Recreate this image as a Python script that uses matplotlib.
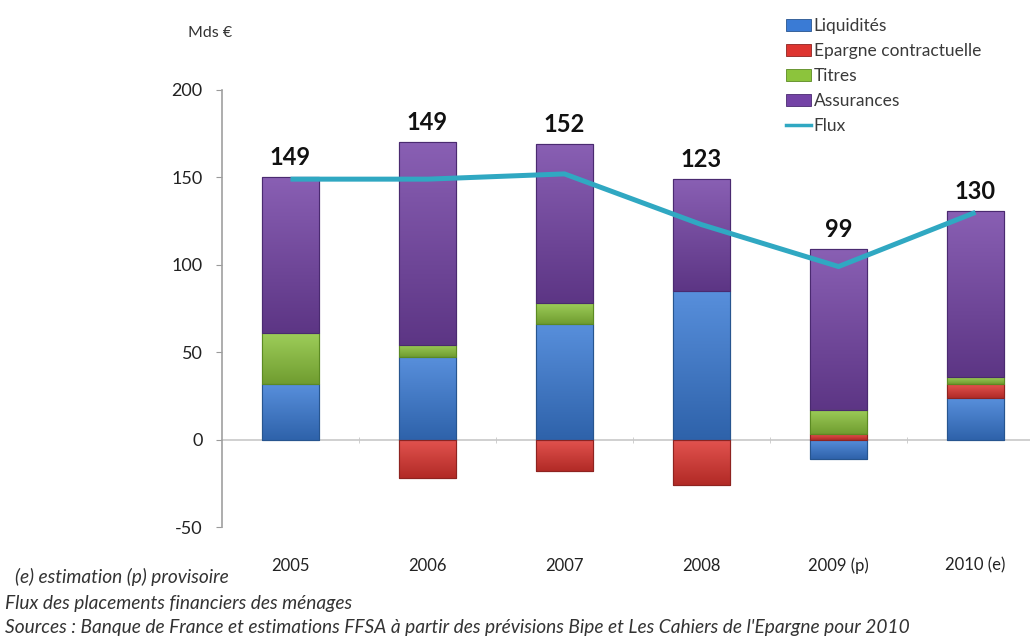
import matplotlib
matplotlib.use("Agg")
import matplotlib.pyplot as plt
from matplotlib.patches import Patch
from matplotlib.lines import Line2D
from matplotlib.colors import to_rgb
import numpy as np

# Flux des placements financiers des ménages (Mds €)
years = ["2005", "2006", "2007", "2008", "2009 (p)", "2010 (e)"]
liquidites = [32, 47, 66, 85, -11, 24]
epargne_contractuelle = [0, -22, -18, -26, 3, 8]
titres = [29, 7, 12, 0, 14, 4]
assurances = [89, 116, 91, 64, 92, 95]
flux = [149, 149, 152, 123, 99, 130]

series_names = ["Liquidités", "Epargne contractuelle", "Titres", "Assurances"]
series_values = [liquidites, epargne_contractuelle, titres, assurances]
series_colors = ["#3a7bd5", "#de3530", "#8cc43c", "#7443a6"]
edge_colors = ["#27558f", "#8e2320", "#5b8a22", "#4a2a70"]
flux_color = "#30a8c2"

font = "Lato"
plt.rcParams["font.family"] = [font, "DejaVu Sans"]
plt.rcParams["axes.unicode_minus"] = False

W, H, DPI = 1030, 641, 100
fig = plt.figure(figsize=(W / DPI, H / DPI), dpi=DPI)
fig.patch.set_facecolor("white")

# axes box in pixel terms: y-axis at x=222, category pitch 137 px
left, right = 222, 1044
top, bottom = 90, 527
ax = fig.add_axes([left / W, 1 - bottom / H, (right - left) / W, (bottom - top) / H])


def shade(color):
    """Vertical gradient image: lighter at the top, darker at the bottom."""
    c = np.array(to_rgb(color))
    t = np.linspace(0, 1, 64)[:, None]
    light = c + (1 - c) * 0.15
    dark = c * 0.8
    grad = light * (1 - t) + dark * t
    return grad[:, None, :].repeat(2, axis=1)


x = np.arange(len(years))
bar_w = 0.42
pos_base = np.zeros(len(years))
neg_base = np.zeros(len(years))
for name, vals, col, ec in zip(series_names, series_values, series_colors, edge_colors):
    vals = np.array(vals, dtype=float)
    base = np.where(vals >= 0, pos_base, neg_base)
    bars = ax.bar(x, vals, bar_w, bottom=base, color=col, edgecolor=ec,
                  linewidth=0.8, zorder=3, label=name)
    for rect in bars:
        h = rect.get_height()
        if h == 0:
            continue
        x0 = rect.get_x()
        y0, y1 = sorted([rect.get_y(), rect.get_y() + h])
        im = ax.imshow(shade(col), extent=[x0, x0 + rect.get_width(), y0, y1],
                       aspect="auto", origin="upper", zorder=3.1,
                       interpolation="bilinear")
        im.set_clip_path(rect)
        # thin outline drawn over the gradient
        ax.add_patch(plt.Rectangle((x0, y0), rect.get_width(), y1 - y0,
                                   fill=False, edgecolor=ec, linewidth=0.8,
                                   zorder=3.2))
    pos_base = pos_base + np.where(vals > 0, vals, 0)
    neg_base = neg_base + np.where(vals < 0, vals, 0)

ax.plot(x, flux, color=flux_color, lw=3.6, zorder=5, solid_capstyle="butt")

# flux value above each stacked bar
for xi, top_val, fv in zip(x, pos_base, flux):
    ax.annotate(f"{fv}", (xi, top_val), xytext=(0, 14), textcoords="offset points",
                ha="center", va="center", fontsize=17, fontweight="bold",
                color="#111111", family=font, zorder=6)

ax.set_xlim(-0.5, len(years) - 0.5)
ax.set_ylim(-50, 200)
ax.set_yticks([-50, 0, 50, 100, 150, 200])
ax.tick_params(axis="y", direction="out", length=4, color="#9a9a9a",
               labelsize=13, labelcolor="#222222", pad=10)
for lab in ax.get_yticklabels():
    lab.set_family(font)

for s in ["top", "right"]:
    ax.spines[s].set_visible(False)
ax.spines["left"].set_color("#a0a0a0")
ax.spines["left"].set_linewidth(1.2)
ax.spines["bottom"].set_position(("data", 0))
ax.spines["bottom"].set_color("#c8c8c8")
ax.spines["bottom"].set_linewidth(1.2)
ax.spines["bottom"].set_zorder(1)
ax.set_xticks(x)
ax.set_xticklabels([])
ax.tick_params(axis="x", which="major", length=0)
ax.set_xticks(x[:-1] + 0.5, minor=True)
ax.tick_params(axis="x", which="minor", length=4, direction="inout", color="#c8c8c8")

# category labels under the plot area
sec = ax.secondary_xaxis(0)
sec.set_xticks(x)
sec.set_xticklabels(years, family=font, fontsize=12, color="#222222")
sec.tick_params(length=0, pad=22)
sec.spines["bottom"].set_visible(False)

fig.text(188 / W, 1 - 33 / H, "Mds €", fontsize=11.5, family=font,
         color="#333333", va="center", ha="left")

handles = [Patch(facecolor=c, edgecolor=e, linewidth=0.6)
           for c, e in zip(series_colors, edge_colors)]
handles.append(Line2D([0], [0], color=flux_color, lw=2.5))
fig.legend(handles, series_names + ["Flux"], loc="upper left",
           bbox_to_anchor=(786 / W, 1 - 18 / H), frameon=False,
           prop={"family": font, "size": 12.5}, labelcolor="#3a3a3a",
           handlelength=1.45, handleheight=0.65, handletextpad=0.15,
           labelspacing=0.52, borderaxespad=0, borderpad=0)

notes = [
    (15, 577, "(e) estimation (p) provisoire"),
    (5, 603, "Flux des placements financiers des ménages"),
    (5, 628, "Sources : Banque de France et estimations FFSA à partir des "
             "prévisions Bipe et Les Cahiers de l'Epargne pour 2010"),
]
for px, py, txt in notes:
    fig.text(px / W, 1 - py / H, txt, fontsize=13.8, family=font, style="italic",
             color="#333333", va="center", ha="left")

fig.savefig("out.png", dpi=DPI, facecolor="white")
